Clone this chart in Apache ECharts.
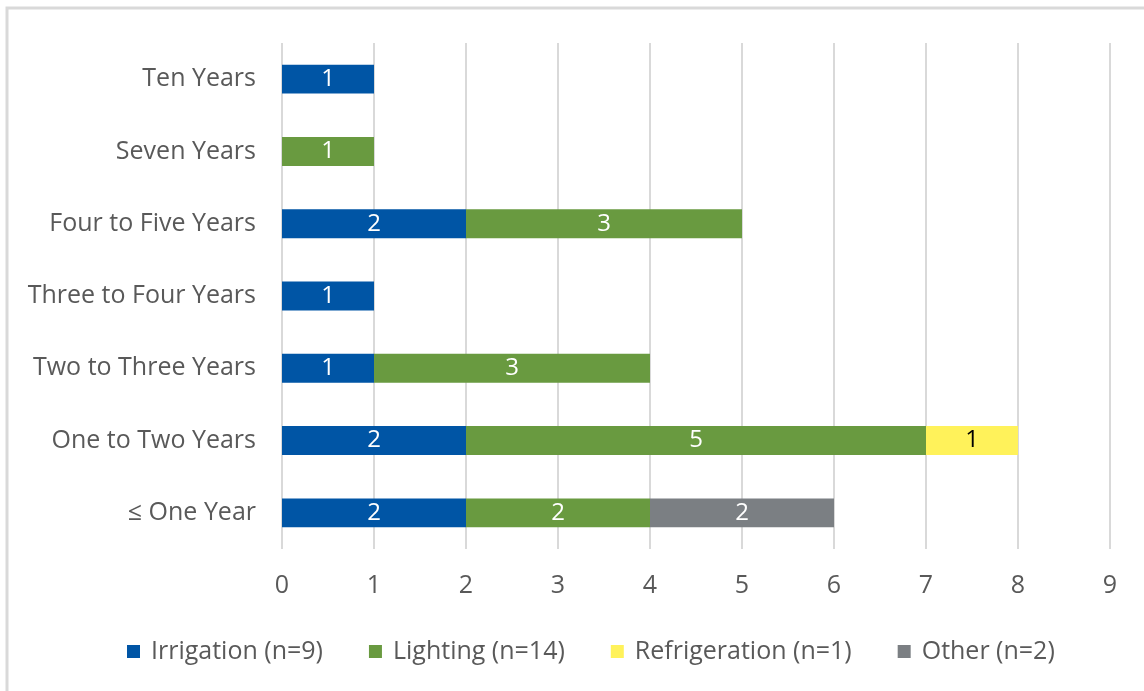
<!DOCTYPE html>
<html>
<head>
<meta charset="utf-8">
<script src="https://cdn.jsdelivr.net/npm/echarts@6/dist/echarts.min.js"></script>
<style>
  html, body { margin: 0; padding: 0; background: #fff; }
  #chart { width: 1144px; height: 691px; }
</style>
</head>
<body>
<div id="chart"></div>
<script>
// Payback period categories, listed bottom to top
const categories = ['≤ One Year', 'One to Two Years', 'Two to Three Years', 'Three to Four Years',
                    'Four to Five Years', 'Seven Years', 'Ten Years'];
const irrigation    = [2, 2, 1, 1, 2, null, 1];
const lighting      = [2, 5, 3, null, 3, 1, null];
const refrigeration = [null, 1, null, null, null, null, null];
const other         = [2, null, null, null, null, null, null];
const xTicks = [0, 1, 2, 3, 4, 5, 6, 7, 8, 9];

const FONT = '"Open Sans", "Noto Sans", sans-serif';
const TEXT = '#595959';
const SIZE = 25;

function barSeries(name, data, color, labelColor) {
  return {
    name: name,
    type: 'bar',
    stack: 'total',
    data: data,
    barCategoryGap: '60%',
    itemStyle: { color: color },
    label: {
      show: true,
      position: 'inside',
      color: labelColor,
      fontFamily: FONT,
      fontSize: 24
    }
  };
}

const chart = echarts.init(document.getElementById('chart'));
chart.setOption({
  animation: false,
  graphic: [{
    type: 'rect',
    shape: { x: 7, y: 8, width: 1200, height: 760 },
    style: { fill: 'none', stroke: '#d9d9d9', lineWidth: 3 },
    silent: true
  }],
  grid: { left: 282, right: 34, top: 43, bottom: 142 },
  legend: {
    bottom: 22,
    left: 122,
    itemWidth: 13,
    itemHeight: 13,
    itemGap: 46,
    icon: 'rect',
    textStyle: { color: TEXT, fontFamily: FONT, fontSize: SIZE, padding: [0, 0, 0, 6] },
    data: ['Irrigation (n=9)', 'Lighting (n=14)', 'Refrigeration (n=1)', 'Other (n=2)']
  },
  xAxis: {
    type: 'value',
    min: xTicks[0],
    max: xTicks[xTicks.length - 1],
    interval: 1,
    axisLine: { show: false },
    axisTick: { show: false },
    splitLine: { lineStyle: { color: '#d9d9d9', width: 2 } },
    axisLabel: { color: TEXT, fontFamily: FONT, fontSize: SIZE, margin: 24 }
  },
  yAxis: {
    type: 'category',
    data: categories,
    axisLine: { show: false },
    axisTick: { show: false },
    axisLabel: { color: TEXT, fontFamily: FONT, fontSize: SIZE, margin: 26 }
  },
  series: [
    barSeries('Irrigation (n=9)', irrigation, '#0055a5', '#ffffff'),
    barSeries('Lighting (n=14)', lighting, '#699a40', '#ffffff'),
    barSeries('Refrigeration (n=1)', refrigeration, '#fff25a', '#000000'),
    barSeries('Other (n=2)', other, '#7b7f83', '#ffffff')
  ]
});
</script>
</body>
</html>
